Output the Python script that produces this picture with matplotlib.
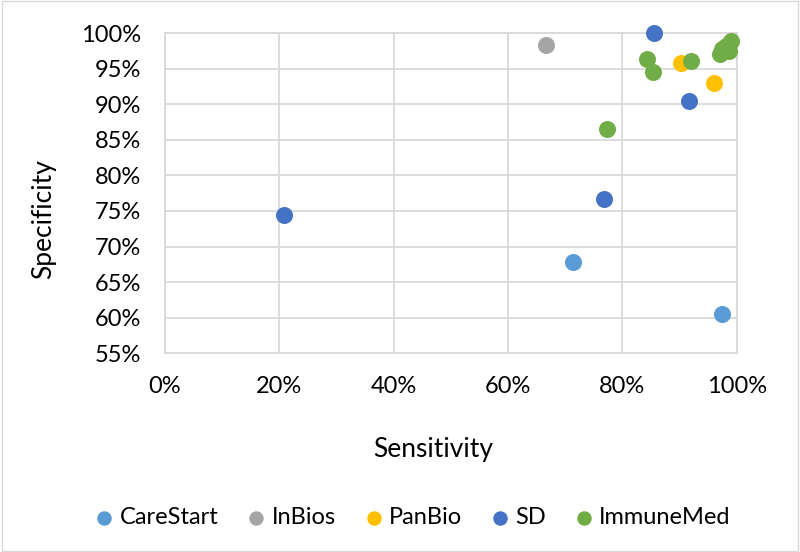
import matplotlib.pyplot as plt
from matplotlib.ticker import PercentFormatter
from matplotlib.patches import Rectangle

plt.rcParams['font.family'] = ['Lato', 'DejaVu Sans']

# sensitivity (x) / specificity (y), in %
carestart_x = [71.4, 97.5]
carestart_y = [67.9, 60.5]
inbios_x = [66.7]
inbios_y = [98.4]
panbio_x = [90.3, 96.1]
panbio_y = [95.8, 93.0]
sd_x = [20.9, 76.7, 85.6, 91.6]
sd_y = [74.4, 76.7, 100.0, 90.5]
immunemed_x = [77.3, 84.3, 85.3, 92.0, 97.1, 97.5, 98.1, 98.6, 99.0]
immunemed_y = [86.5, 96.3, 94.5, 96.1, 97.1, 97.7, 98.2, 97.5, 98.9]

series = [
    ('CareStart', carestart_x, carestart_y, '#5B9BD5'),
    ('InBios', inbios_x, inbios_y, '#A5A5A5'),
    ('PanBio', panbio_x, panbio_y, '#FFC000'),
    ('SD', sd_x, sd_y, '#4472C4'),
    ('ImmuneMed', immunemed_x, immunemed_y, '#70AD47'),
]

fig = plt.figure(figsize=(8, 5.52), dpi=100)
ax = fig.add_axes([0.206, 0.360, 0.715, 0.580])

for name, xs, ys, col in series:
    ax.scatter(xs, ys, s=150, color=col, label=name, zorder=3, linewidths=0,
               clip_on=False)

ax.set_xlim(0, 100)
ax.set_ylim(55, 100)
ax.set_xticks(range(0, 101, 20))
ax.set_yticks(range(55, 101, 5))
ax.xaxis.set_major_formatter(PercentFormatter(decimals=0))
ax.yaxis.set_major_formatter(PercentFormatter(decimals=0))
ax.grid(True, color='#D9D9D9', linewidth=1.3, zorder=0)
ax.set_axisbelow(True)
for sp in ax.spines.values():
    sp.set_color('#D9D9D9')
    sp.set_linewidth(1.3)
ax.tick_params(length=0, labelsize=17, colors='#000000')
ax.tick_params(axis='y', pad=17)
ax.tick_params(axis='x', pad=16)
ax.set_xlabel('Sensitivity', fontsize=19)
ax.set_ylabel('Specificity', fontsize=19)
ax.xaxis.set_label_coords(0.469, -0.262)
ax.yaxis.set_label_coords(-0.19, 0.42)

fig.legend(loc='center', bbox_to_anchor=(0.516, 0.062), ncol=5, frameon=False,
           fontsize=17, handlelength=0.8, handletextpad=0.25, columnspacing=1.2,
           markerscale=0.85)

fig.patches.append(Rectangle((0.002, 0.002), 0.996, 0.996, transform=fig.transFigure,
                             fill=False, edgecolor='#D9D9D9', linewidth=1))

fig.savefig('out.png', dpi=100)
